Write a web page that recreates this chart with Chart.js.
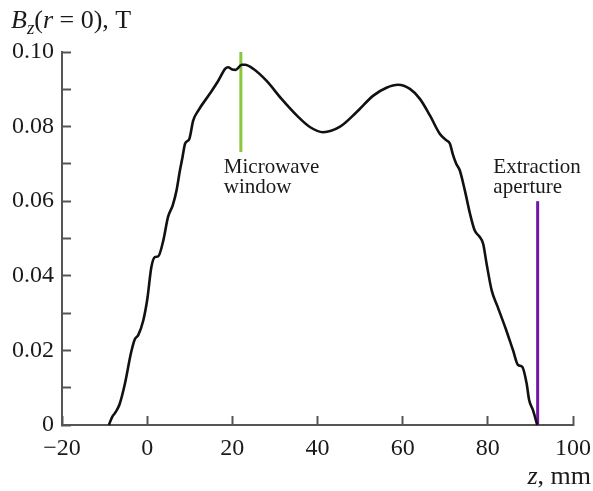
<!DOCTYPE html>
<html>
<head>
<meta charset="utf-8">
<script src="https://cdn.jsdelivr.net/npm/chart.js@4/dist/chart.umd.min.js"></script>
<style>
  html, body { margin: 0; padding: 0; background: #ffffff; }
  #wrap { width: 593px; height: 491px; position: relative; }
</style>
</head>
<body>
<div id="wrap"><canvas id="c" width="593" height="491"></canvas></div>
<script>
// ---- data ----
const zValues = [-9, -8.2, -7.5, -6.5, -5.2, -3.8, -2.9, -2.1, -0.9, 0, 1.0, 1.8, 2.6, 3.8, 4.9, 6.0, 6.9, 7.7, 8.3, 8.9, 9.9, 10.8, 12.0, 14.7, 16.7, 18.3, 19.0, 20.0, 20.8, 22.2, 23.0, 24.9, 28.0, 31.5, 35.3, 38.2, 41.3, 45.2, 49.2, 53.1, 56.2, 58.9, 61.7, 64.0, 66.4, 68.7, 70.3, 71.1, 71.8, 72.6, 73.4, 74.6, 75.8, 76.9, 78.1, 78.9, 79.7, 80.9, 82.2, 84.2, 85.9, 87.1, 88.1, 89.1, 89.7, 90.6, 91.6];
const bzValues = [0, 0.0022, 0.0033, 0.0055, 0.0112, 0.0193, 0.0230, 0.0241, 0.0281, 0.0335, 0.0424, 0.0450, 0.0452, 0.0495, 0.0558, 0.0589, 0.0629, 0.0683, 0.0718, 0.0754, 0.0767, 0.0816, 0.0843, 0.0888, 0.0923, 0.0955, 0.0959, 0.0953, 0.0952, 0.0966, 0.0966, 0.0955, 0.0923, 0.0875, 0.0828, 0.0799, 0.0785, 0.0799, 0.0839, 0.0883, 0.0904, 0.0912, 0.0901, 0.0875, 0.0830, 0.0781, 0.0763, 0.0754, 0.0725, 0.0700, 0.0683, 0.0629, 0.0567, 0.0522, 0.0504, 0.0486, 0.0433, 0.0361, 0.0320, 0.0258, 0.0201, 0.0161, 0.0156, 0.0112, 0.0067, 0.0040, 0];
const microwaveZ = 22.0;
const microwaveB = [0.0732, 0.1];
const apertureZ = 91.7;
const apertureB = [0, 0.06];
const xTickLabels = { "-20": "\u221220", "0": "0", "20": "20", "40": "40", "60": "60", "80": "80", "100": "100" };
const yTickLabels = { "0": "0", "2": "0.02", "4": "0.04", "6": "0.06", "8": "0.08", "10": "0.10" };
const annotations = [
  { z: 18.0, b: 0.0675, lines: ["Microwave", "window"] },
  { z: 81.3, b: 0.0675, lines: ["Extraction", "aperture"] }
];

// ---- chart ----
const FONT = '"Liberation Serif", "Times New Roman", serif';
const AXIS = '#555555';
const TEXT = '#1a1a1a';

const curve = zValues.map((z, i) => ({ x: z, y: bzValues[i] }));

const textPlugin = {
  id: 'texts',
  afterDraw(chart) {
    const ctx = chart.ctx;
    const xs = chart.scales.x, ys = chart.scales.y;
    ctx.save();
    ctx.fillStyle = TEXT;
    ctx.textBaseline = 'alphabetic';
    ctx.textAlign = 'left';
    // title B_z(r = 0), T
    let x = 11;
    const base = 28;
    const parts = [
      { t: 'B', f: 'italic 26px ' + FONT, dy: 0 },
      { t: 'z', f: 'italic 19px ' + FONT, dy: 6 },
      { t: '(', f: '26px ' + FONT, dy: 0 },
      { t: 'r', f: 'italic 26px ' + FONT, dy: 0 },
      { t: ' = 0), T', f: '26px ' + FONT, dy: 0 }
    ];
    for (const p of parts) {
      ctx.font = p.f;
      ctx.fillText(p.t, x, base + p.dy);
      x += ctx.measureText(p.t).width;
    }
    // axis label z, mm (right aligned)
    ctx.font = '26px ' + FONT;
    const w2 = ctx.measureText(', mm').width;
    ctx.font = 'italic 26px ' + FONT;
    const w1 = ctx.measureText('z').width;
    x = 591 - w1 - w2;
    ctx.fillText('z', x, 484);
    ctx.font = '26px ' + FONT;
    ctx.fillText(', mm', x + w1, 484);
    // annotations
    ctx.font = '21px ' + FONT;
    for (const a of annotations) {
      const px = xs.getPixelForValue(a.z);
      const py = ys.getPixelForValue(a.b);
      a.lines.forEach((s, i) => ctx.fillText(s, px, py + i * 20));
    }
    ctx.restore();
  }
};

new Chart(document.getElementById('c'), {
  type: 'line',
  data: {
    datasets: [
      {
        data: curve,
        borderColor: '#111111',
        borderWidth: 2.6,
        pointRadius: 0,
        cubicInterpolationMode: 'monotone',
        fill: false,
        clip: false
      },
      {
        data: microwaveB.map(b => ({ x: microwaveZ, y: b })),
        borderColor: '#8cc63f',
        borderWidth: 3,
        pointRadius: 0,
        clip: false
      },
      {
        data: apertureB.map(b => ({ x: apertureZ, y: b })),
        borderColor: '#7414a8',
        borderWidth: 3,
        pointRadius: 0,
        clip: false
      }
    ]
  },
  options: {
    responsive: false,
    animation: false,
    devicePixelRatio: 1,
    layout: { padding: { top: 52, right: 20, left: 0, bottom: 0 } },
    plugins: { legend: { display: false }, tooltip: { enabled: false } },
    scales: {
      x: {
        type: 'linear',
        min: -20, max: 100,
        afterFit(s) { s.height = 66; s.paddingLeft = 0; s.paddingRight = 0; },
        afterBuildTicks(s) { s.ticks = Object.keys(xTickLabels).map(Number).sort((a,b)=>a-b).map(v => ({ value: v })); },
        ticks: {
          callback: v => xTickLabels[String(v)] ?? '',
          font: { family: FONT, size: 24 },
          color: TEXT,
          padding: 18,
          maxRotation: 0,
          autoSkip: false
        },
        grid: { drawOnChartArea: false, drawTicks: true, tickLength: -9, tickWidth: 2, tickColor: AXIS },
        border: { display: true, color: AXIS, width: 2 }
      },
      y: {
        type: 'linear',
        min: 0, max: 0.1,
        afterFit(s) { s.width = 62; s.paddingTop = 0; s.paddingBottom = 0; },
        afterBuildTicks(s) { const t = []; for (let i = 0; i <= 10; i++) t.push({ value: i / 100 }); s.ticks = t; },
        ticks: {
          callback: v => yTickLabels[String(Math.round(v * 100))] ?? '',
          font: { family: FONT, size: 24 },
          color: TEXT,
          padding: 17,
          autoSkip: false
        },
        grid: { drawOnChartArea: false, drawTicks: true, tickLength: -9, tickWidth: 2, tickColor: AXIS },
        border: { display: true, color: AXIS, width: 2 }
      }
    }
  },
  plugins: [textPlugin]
});
</script>
</body>
</html>
